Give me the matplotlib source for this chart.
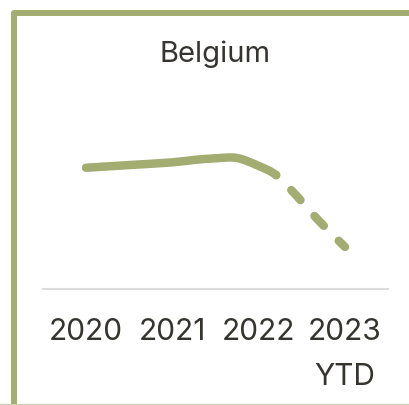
import matplotlib
matplotlib.use("Agg")
import matplotlib.pyplot as plt
import numpy as np
from matplotlib.lines import Line2D
from matplotlib.path import Path
from matplotlib.patches import PathPatch

plt.rcParams["font.family"] = ["Inter", "DejaVu Sans"]

GREEN = "#a3ac71"
TEXT = "#35342f"

title = "Belgium"
tick_years = [2020, 2021, 2022, 2023]
tick_labels = ["2020", "2021", "2022", "2023\nYTD"]

# reported values (solid) and year-to-date projection (dashed)
actual_x = [2020.0, 2020.5, 2021.0, 2021.25, 2021.5, 2021.75, 2022.0, 2022.2]
actual_y = [80.5, 82.3, 84.1, 85.7, 86.8, 87.0, 81.7, 75.7]
ytd_x = [2022.2, 2022.42, 2022.7, 2023.0]
ytd_y = [75.7, 63.0, 45.0, 27.7]


def smooth_path(xs, ys, pad_prev=None, pad_next=None):
    # Catmull-Rom through the points, written as cubic bezier segments
    pts = np.column_stack([xs, ys]).astype(float)
    first = pts[0] if pad_prev is None else np.asarray(pad_prev, float)
    last = pts[-1] if pad_next is None else np.asarray(pad_next, float)
    ext = np.vstack([first, pts, last])
    verts = [pts[0]]
    codes = [Path.MOVETO]
    for i in range(1, len(ext) - 2):
        p0, p1, p2, p3 = ext[i - 1], ext[i], ext[i + 1], ext[i + 2]
        verts += [p1 + (p2 - p0) / 6, p2 - (p3 - p1) / 6, p2]
        codes += [Path.CURVE4] * 3
    return Path(verts, codes)


fig = plt.figure(figsize=(4.10, 4.05), dpi=100)
W, H = 410, 405
ax = fig.add_axes([43 / W, 1 - 288.5 / H, (388 - 43) / W, 150 / H])
ax.set_xlim(2019.502, 2023.498)
ax.set_ylim(0, 100)

lw = 6.1
solid = smooth_path(actual_x, actual_y, pad_next=(ytd_x[1], ytd_y[1]))
dashed = smooth_path(ytd_x, ytd_y, pad_prev=(actual_x[-2], actual_y[-2]))
ax.add_patch(PathPatch(solid, fill=False, edgecolor=GREEN, linewidth=lw,
                       capstyle="round", joinstyle="round"))
ax.add_patch(PathPatch(dashed, fill=False, edgecolor=GREEN, linewidth=lw,
                       linestyle=(1.55, (1.6, 2.5)),
                       capstyle="round", joinstyle="round"))

for side in ["top", "left", "right"]:
    ax.spines[side].set_visible(False)
ax.spines["bottom"].set_color("#dcdcdc")
ax.spines["bottom"].set_linewidth(1.5)
ax.set_yticks([])
ax.set_xticks(tick_years)
ax.set_xticklabels(tick_labels, fontsize=21.5, color=TEXT)
ax.tick_params(axis="x", length=0, pad=21)
for lbl in ax.get_xticklabels():
    lbl.set_linespacing(1.8)

fig.text(215.5 / W, 1 - 62.3 / H, title, ha="center", va="baseline",
         fontsize=21, color=TEXT)

# card frame: thick left and top edges, thin bottom edge
fig.add_artist(Line2D([14 / W, 14 / W, 1.02], [-0.02, 1 - 13 / H, 1 - 13 / H],
                      color=GREEN, linewidth=4.3, solid_joinstyle="round"))
fig.add_artist(Line2D([0, 1], [0.6 / H, 0.6 / H], color="#cdd2ae", linewidth=1))

fig.savefig("out.png", dpi=100)
